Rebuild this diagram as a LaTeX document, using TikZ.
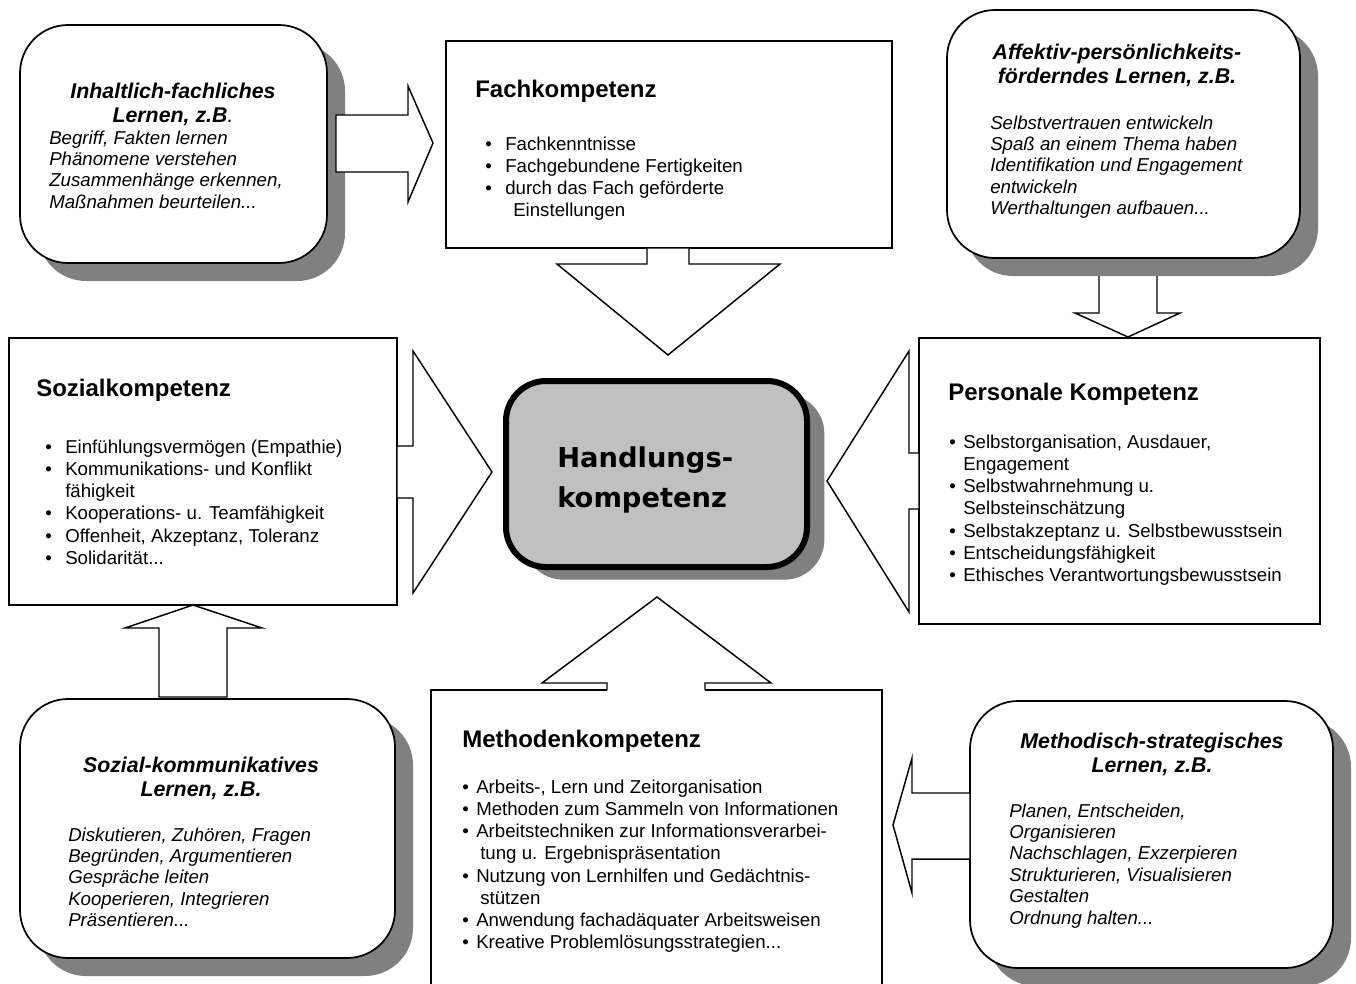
\documentclass[tikz,border=0pt]{standalone}
\usepackage{fontspec}
\setmainfont{Liberation Sans}
\newfontfamily\ctrfont{DejaVu Sans}
\usetikzlibrary{fit,shadows}
\definecolor{shadowgray}{HTML}{808080}
\definecolor{centerfill}{HTML}{C0C0C0}
\newcommand{\bodyfont}{\fontsize{14}{16.7}\selectfont}
\newcommand{\itemfont}{\fontsize{14}{16.1}\selectfont\itshape}
\newcommand{\headfont}{\fontsize{18}{21}\selectfont\bfseries}
\newcommand{\learnhead}{\fontsize{16}{18}\selectfont\bfseries\itshape}
\newcommand{\ctrtext}{\ctrfont\bfseries\fontsize{20.5}{30}\selectfont}
\newcommand{\bl}[1]{\makebox[#1][l]{\textbullet}}
\tikzset{
  kbox/.style={draw, fill=white, line width=1.3pt, inner sep=0pt},
  lbox/.style={draw, fill=white, line width=1.3pt, inner sep=0pt, rounded corners=36pt,
    drop shadow={shadow xshift=13.5pt, shadow yshift=-13.5pt, fill=shadowgray, opacity=1}},
  ctrbox/.style={draw, fill=centerfill, line width=4.5pt, inner sep=0pt, rounded corners=30pt,
    drop shadow={shadow xshift=13pt, shadow yshift=-9.5pt, fill=shadowgray, opacity=1}},
  blockarrow/.style={draw, fill=white, line width=1.1pt, line join=miter},
  txt/.style={anchor=base west, inner sep=0pt},
  ctxt/.style={anchor=base, inner sep=0pt},
}
\begin{document}
\begin{tikzpicture}[x=0.75pt, y=-0.75pt]
\useasboundingbox (0,0) rectangle (1356,983);
\clip (0,0) rectangle (1356,983);

% arrow from Affektiv box down to Personale (under the shadow)
\draw[blockarrow] (1099,258) -- (1099,313) -- (1075,313) -- (1128,337) -- (1180,313) -- (1157,313) -- (1157,258) -- cycle;

% boxes
\node[lbox, fit={(20,25) (327,263)}] (inh) {};
\node[lbox, fit={(947,10) (1300,258)}] (aff) {};
\node[lbox, fit={(20,699) (395,958)}] (skom) {};
\node[lbox, fit={(970,701) (1333,968)}] (mstr) {};
\node[kbox, fit={(446,41) (892,248)}] (fach) {};
\node[kbox, fit={(9,338) (397,605)}] (soz) {};
\node[kbox, fit={(919,338) (1320,624)}] (pers) {};
\node[kbox, fit={(431,690) (882,1000)}] (meth) {};
\node[ctrbox, fit={(506,381) (807,567)}] (ctr) {};

% block arrows
\draw[blockarrow] (336,115) -- (408,115) -- (408,86) -- (433,143) -- (408,202) -- (408,172) -- (336,172) -- cycle;
\draw[blockarrow] (647,248) -- (647,264) -- (557,264) -- (668,355) -- (780,264) -- (689,264) -- (689,248) -- cycle;
\draw[blockarrow] (397,446) -- (413,446) -- (413,351) -- (492,472) -- (413,593) -- (413,498) -- (397,498) -- cycle;
\draw[blockarrow] (919,453) -- (909,453) -- (909,351) -- (827,481) -- (909,612) -- (909,509) -- (919,509) -- cycle;
\fill[white] (607,692) -- (607,683) -- (542,683) -- (657,597) -- (771,683) -- (705,683) -- (705,692) -- cycle;
\draw[line width=1.1pt, line join=miter] (607,690) -- (607,683) -- (542,683) -- (657,597) -- (771,683) -- (705,683) -- (705,690);
\draw[blockarrow] (159,697) -- (159,628) -- (125,628) -- (193,605) -- (262,628) -- (227,628) -- (227,697) -- cycle;
\draw[blockarrow] (970,793) -- (912,793) -- (912,758) -- (893,825) -- (912,893) -- (912,859) -- (970,859) -- cycle;

% centre text
\node[txt, font=\ctrtext] (ctrlabel) at (557,467) {\begin{tabular}[t]{@{}l@{}}Handlungs-\\kompetenz\end{tabular}};

% competence boxes
\node[txt, font=\headfont] (fachtitle) at (475,97) {Fachkompetenz};
\node[txt, font=\bodyfont] (fachitems) at (485,150) {\begin{tabular}[t]{@{}l@{}}
\bl{15pt}Fachkenntnisse\\
\bl{15pt}Fachgebundene Fertigkeiten\\
\bl{15pt}durch das Fach geförderte\\
\hspace*{21pt}Einstellungen
\end{tabular}};

\node[txt, font=\headfont] (soztitle) at (36,396) {Sozialkompetenz};
\node[txt, font=\bodyfont] (sozitems) at (45,453) {\begin{tabular}[t]{@{}l@{}}
\bl{15pt}Einfühlungsvermögen (Empathie)\\
\bl{15pt}Kommunikations- und Konflikt\\
\hspace*{15pt}fähigkeit\\
\bl{15pt}Kooperations- u. Teamfähigkeit\\
\bl{15pt}Offenheit, Akzeptanz, Toleranz\\
\bl{15pt}Solidarität...
\end{tabular}};

\node[txt, font=\headfont] (perstitle) at (948,400) {Personale Kompetenz};
\node[txt, font=\bodyfont] (persitems) at (949,448) {\begin{tabular}[t]{@{}l@{}}
\bl{10.5pt}Selbstorganisation, Ausdauer,\\
\hspace*{10.5pt}Engagement\\
\bl{10.5pt}Selbstwahrnehmung u.\\
\hspace*{10.5pt}Selbsteinschätzung\\
\bl{10.5pt}Selbstakzeptanz u. Selbstbewusstsein\\
\bl{10.5pt}Entscheidungsfähigkeit\\
\bl{10.5pt}Ethisches Verantwortungsbewusstsein
\end{tabular}};

\node[txt, font=\headfont] (methtitle) at (462,747) {Methodenkompetenz};
\node[txt, font=\bodyfont] (methitems) at (462,793) {\begin{tabular}[t]{@{}l@{}}
\bl{10.5pt}Arbeits-, Lern und Zeitorganisation\\
\bl{10.5pt}Methoden zum Sammeln von Informationen\\
\bl{10.5pt}Arbeitstechniken zur Informationsverarbei-\\
\hspace*{13.5pt}tung u. Ergebnispräsentation\\
\bl{10.5pt}Nutzung von Lernhilfen und Gedächtnis-\\
\hspace*{13.5pt}stützen\\
\bl{10.5pt}Anwendung fachadäquater Arbeitsweisen\\
\bl{10.5pt}Kreative Problemlösungsstrategien...
\end{tabular}};

% learning boxes
\node[ctxt, font=\learnhead] (inhtitle) at (173,98) {\begin{tabular}[t]{@{}c@{}}Inhaltlich-fachliches\\Lernen, z.B{\mdseries.}\end{tabular}};
\node[txt, font=\itemfont] (inhitems) at (49,144) {\begin{tabular}[t]{@{}l@{}}
Begriff, Fakten lernen\\
Phänomene verstehen\\
Zusammenhänge erkennen,\\
Maßnahmen beurteilen...
\end{tabular}};

\node[ctxt, font=\learnhead] (afftitle) at (1117,59) {\begin{tabular}[t]{@{}c@{}}Affektiv-persönlichkeits-\\förderndes Lernen, z.B.\end{tabular}};
\node[txt, font=\itemfont] (affitems) at (990,129) {\begin{tabular}[t]{@{}l@{}}
Selbstvertrauen entwickeln\\
Spaß an einem Thema haben\\
Identifikation und Engagement\\
entwickeln\\
Werthaltungen aufbauen...
\end{tabular}};

\node[ctxt, font=\learnhead] (skomtitle) at (201,772) {\begin{tabular}[t]{@{}c@{}}Sozial-kommunikatives\\Lernen, z.B.\end{tabular}};
\node[txt, font=\itemfont] (skomitems) at (68,841) {\begin{tabular}[t]{@{}l@{}}
Diskutieren, Zuhören, Fragen\\
Begründen, Argumentieren\\
Gespräche leiten\\
Kooperieren, Integrieren\\
Präsentieren...
\end{tabular}};

\node[ctxt, font=\learnhead] (mstrtitle) at (1152,748) {\begin{tabular}[t]{@{}c@{}}Methodisch-strategisches\\Lernen, z.B.\end{tabular}};
\node[txt, font=\itemfont] (mstritems) at (1009,817) {\begin{tabular}[t]{@{}l@{}}
Planen, Entscheiden,\\
Organisieren\\
Nachschlagen, Exzerpieren\\
Strukturieren, Visualisieren\\
Gestalten\\
Ordnung halten...
\end{tabular}};
\end{tikzpicture}
\end{document}
